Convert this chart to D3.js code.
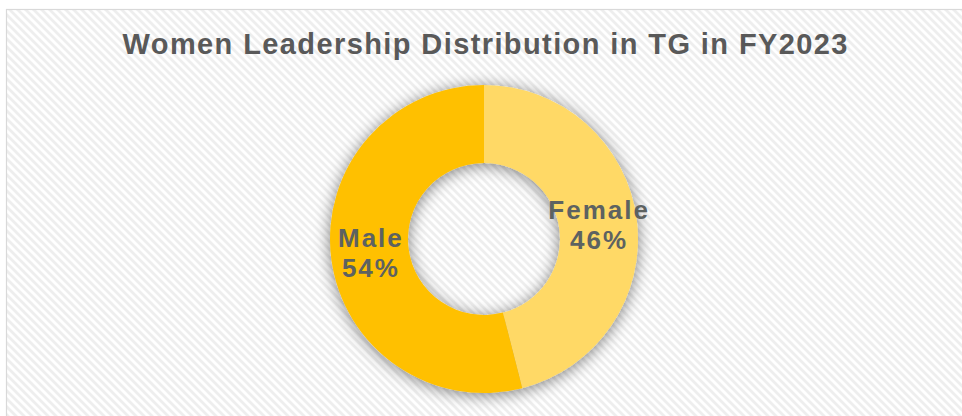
<!DOCTYPE html>
<html>
<head>
<meta charset="utf-8">
<script src="https://cdn.jsdelivr.net/npm/d3@7"></script>
<style>
  html, body { margin: 0; padding: 0; background: #ffffff; }
  svg { display: block; }
</style>
</head>
<body>
<svg id="chart" width="962" height="416"></svg>
<script>
// Leadership split by gender
const categories = ["Female", "Male"];
const shares = [46, 54];
const sliceColors = ["#FFD966", "#FFC000"];
const chartTitle = "Women Leadership Distribution in TG in FY2023";

const W = 962, H = 416;
const svg = d3.select("#chart");
const defs = svg.append("defs");

// diagonal hatch backdrop
const pat = defs.append("pattern")
  .attr("id", "hatch")
  .attr("patternUnits", "userSpaceOnUse")
  .attr("width", 8).attr("height", 8);
pat.append("rect").attr("width", 8).attr("height", 8).attr("fill", "#ffffff");
pat.append("path")
  .attr("d", "M-1,-1 L9,9 M-5,3 L5,13 M3,-5 L13,5")
  .attr("stroke", "#eeeeee")
  .attr("stroke-width", 2.8);

// soft glow beneath the ring
const f = defs.append("filter").attr("id", "shadow")
  .attr("x", "-25%").attr("y", "-25%").attr("width", "150%").attr("height", "150%");
f.append("feGaussianBlur").attr("in", "SourceAlpha").attr("stdDeviation", 8).attr("result", "b");
f.append("feOffset").attr("in", "b").attr("dx", 0).attr("dy", 2).attr("result", "o");
f.append("feComponentTransfer").attr("in", "o").attr("result", "s")
  .append("feFuncA").attr("type", "linear").attr("slope", 0.5);
const m = f.append("feMerge");
m.append("feMergeNode").attr("in", "s");
m.append("feMergeNode").attr("in", "SourceGraphic");

// chart area with its frame
svg.append("rect")
  .attr("x", 6.5).attr("y", 9.5)
  .attr("width", W + 20).attr("height", H + 20)
  .attr("fill", "url(#hatch)")
  .attr("stroke", "#d9d9d9")
  .attr("stroke-width", 1.2);

// title
svg.append("text")
  .attr("x", 485 + 0.7).attr("y", 54)
  .attr("text-anchor", "middle")
  .attr("font-family", "'Liberation Sans', Arial, sans-serif")
  .attr("font-weight", "bold")
  .attr("font-size", 29)
  .attr("letter-spacing", 1.4)
  .attr("fill", "#595959")
  .text(chartTitle);

// donut
const cx = 484, cy = 239, rOuter = 154, rInner = 76;
const data = categories.map((c, i) => ({ name: c, value: shares[i], color: sliceColors[i] }));
const pie = d3.pie().sort(null).value(d => d.value);
const arc = d3.arc().innerRadius(rInner).outerRadius(rOuter);
const labelArc = d3.arc().innerRadius((rInner + rOuter) / 2).outerRadius((rInner + rOuter) / 2);

const g = svg.append("g").attr("transform", `translate(${cx},${cy})`);
const ring = g.append("g").attr("filter", "url(#shadow)");
ring.selectAll("path")
  .data(pie(data))
  .join("path")
  .attr("d", arc)
  .attr("fill", d => d.data.color);

const total = d3.sum(shares);
const labels = g.selectAll("text.lbl")
  .data(pie(data))
  .join("text")
  .attr("class", "lbl")
  .attr("transform", d => {
    const [x, y] = labelArc.centroid(d);
    return `translate(${x + 1},${y})`;
  })
  .attr("text-anchor", "middle")
  .attr("font-family", "'Liberation Sans', Arial, sans-serif")
  .attr("font-weight", "bold")
  .attr("font-size", 26)
  .attr("letter-spacing", 2)
  .attr("fill", "#5d6261");
labels.append("tspan").attr("x", 0).attr("y", -6).text(d => d.data.name);
labels.append("tspan").attr("x", 0).attr("y", 24)
  .text(d => Math.round(d.data.value / total * 100) + "%");
</script>
</body>
</html>
